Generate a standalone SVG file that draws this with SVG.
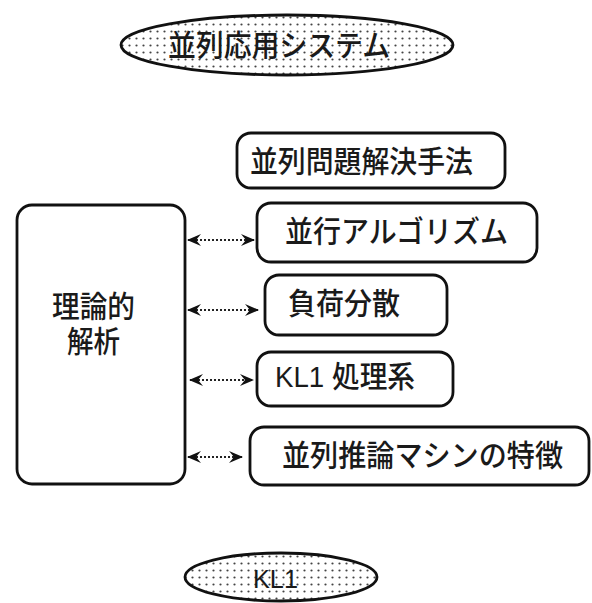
<svg xmlns="http://www.w3.org/2000/svg" width="592" height="603" viewBox="0 0 592 603">
<style>
.box{fill:#fff;stroke:#111;stroke-width:2.8}
.ell{fill:url(#dots);stroke:#111;stroke-width:2.8}
.t{font-family:"Liberation Sans","Noto Sans CJK JP",sans-serif;font-size:30px;font-weight:500;fill:#1a1a1a}
.con{stroke:#222;stroke-width:1.8;stroke-dasharray:2 2;fill:none;marker-start:url(#ah);marker-end:url(#ah)}
</style>
<defs>
<pattern id="dots" width="7" height="7" patternUnits="userSpaceOnUse">
<rect width="7" height="7" fill="#fff"/>
<circle cx="3.5" cy="3.5" r="1.1" fill="#444"/>
</pattern>
<marker id="ah" viewBox="0 0 14 12" refX="13" refY="6" markerWidth="14" markerHeight="12" markerUnits="userSpaceOnUse" orient="auto-start-reverse">
<path d="M0,0 L14,6 L0,12 L5,6 z" fill="#111"/>
</marker>
</defs>
<rect width="592" height="603" fill="#fff"/>
<g id="n-top">
<ellipse class="ell" cx="287" cy="45" rx="166" ry="30"/>
<text class="t" x="168" y="56" textLength="222" lengthAdjust="spacingAndGlyphs">並列応用システム</text>
</g>
<g id="n-mondai">
<rect class="box" x="237" y="133" width="268" height="55" rx="14"/>
<text class="t" x="250" y="172" textLength="223" lengthAdjust="spacingAndGlyphs">並列問題解決手法</text>
</g>
<g id="n-algo">
<rect class="box" x="257" y="203" width="280" height="59" rx="14"/>
<text class="t" x="285" y="242" textLength="223" lengthAdjust="spacingAndGlyphs">並行アルゴリズム</text>
</g>
<g id="n-fuka">
<rect class="box" x="265" y="275" width="182" height="60" rx="14"/>
<text class="t" x="288" y="314" textLength="112" lengthAdjust="spacingAndGlyphs">負荷分散</text>
</g>
<g id="n-kl1sys">
<rect class="box" x="257" y="352" width="196" height="54" rx="14"/>
<text class="t" x="275" y="387" textLength="140" lengthAdjust="spacingAndGlyphs">KL1 処理系</text>
</g>
<g id="n-machine">
<rect class="box" x="250" y="427" width="339" height="58" rx="14"/>
<text class="t" x="282" y="466" textLength="281" lengthAdjust="spacingAndGlyphs">並列推論マシンの特徴</text>
</g>
<g id="n-riron">
<rect class="box" x="17" y="205" width="168" height="279" rx="15"/>
<text class="t" x="52" y="317" textLength="83" lengthAdjust="spacingAndGlyphs">理論的</text>
<text class="t" x="67" y="352" textLength="53" lengthAdjust="spacingAndGlyphs">解析</text>
</g>
<g id="n-kl1">
<ellipse class="ell" cx="281" cy="577" rx="96" ry="24"/>
<text class="t" x="253" y="588" style="font-size:26px" textLength="45" lengthAdjust="spacingAndGlyphs">KL1</text>
</g>
<g id="connectors">
<line class="con" x1="188" y1="240" x2="254" y2="240"/>
<line class="con" x1="188" y1="310" x2="258" y2="310"/>
<line class="con" x1="190" y1="380" x2="253" y2="380"/>
<line class="con" x1="188" y1="457" x2="242" y2="457"/>
</g>
</svg>
